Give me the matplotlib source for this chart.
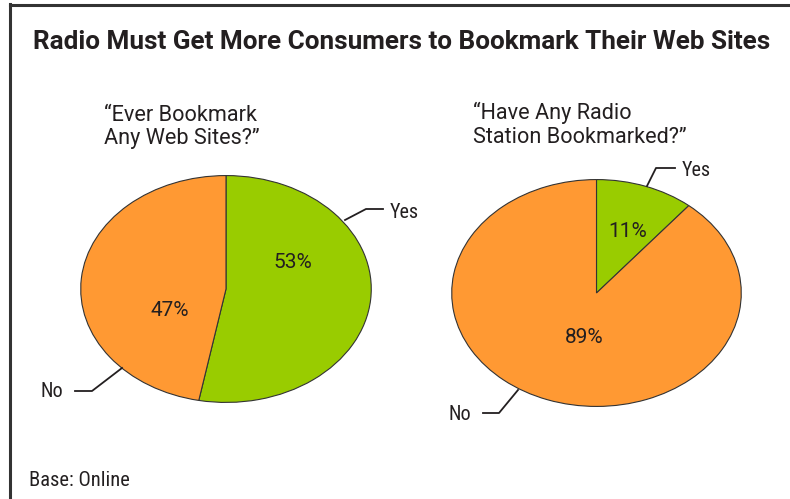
import matplotlib
matplotlib.use("Agg")
import matplotlib.pyplot as plt
from matplotlib import font_manager as fm
from matplotlib.transforms import Affine2D
from matplotlib.lines import Line2D

# Survey results
title = "Radio Must Get More Consumers to Bookmark Their Web Sites"
left_question = ["\u201cEver Bookmark", "Any Web Sites?\u201d"]
right_question = ["\u201cHave Any Radio", "Station Bookmarked?\u201d"]
categories = ["Yes", "No"]
left_values = [53, 47]
right_values = [11, 89]
footnote = "Base: Online"

GREEN = "#99CC00"
ORANGE = "#FF9933"
INK = "#231F20"

# faces: a condensed sans for small labels, a regular sans for headings
available = {f.name for f in fm.fontManager.ttflist}
candidates = ["Roboto Condensed", "Archivo Narrow", "PT Sans Narrow",
              "Asap Condensed", "Barlow Semi Condensed", "DejaVu Sans"]
NARROW = [next(c for c in candidates if c in available), "DejaVu Sans"]
REGULAR = ["Roboto", "DejaVu Sans"]

W, H = 790, 499
fig = plt.figure(figsize=(W / 100, H / 100), dpi=100)
fig.patch.set_facecolor("white")

# pixel coordinates (origin top-left)
px = Affine2D().scale(1 / W, -1 / H).translate(0, 1) + fig.transFigure


def pie_axes(x0, y0, x1, y1):
    return fig.add_axes([x0 / W, 1 - y1 / H, (x1 - x0) / W, (y1 - y0) / H])


def draw_pie(ax, values):
    ax.pie(values, colors=[GREEN, ORANGE], startangle=90, counterclock=False,
           wedgeprops=dict(edgecolor="#333333", linewidth=0.8))
    ax.set_aspect("auto")
    ax.set_xlim(-1.005, 1.005)
    ax.set_ylim(-1.005, 1.005)
    ax.axis("off")


ax_l = pie_axes(80, 175, 372, 403)
draw_pie(ax_l, left_values)
ax_r = pie_axes(451, 179, 742, 407)
draw_pie(ax_r, right_values)

# frame lines
fig.add_artist(Line2D([10, 790], [5, 5], transform=px, color="#333333", lw=2.2))
fig.add_artist(Line2D([10, 10], [4, 499], transform=px, color="#333333", lw=2.2))


def txt(x, y, s, size=14, ha="left", weight="normal", family=NARROW):
    fig.text(x, y, s, transform=px, ha=ha, va="baseline", fontsize=size,
             family=family, color=INK, fontweight=weight)


txt(33, 49, title, size=18.8, weight="bold", family=REGULAR)
txt(104, 121, left_question[0], size=15.6, family=REGULAR)
txt(104, 144, left_question[1], size=15.6, family=REGULAR)
txt(473, 119, right_question[0], size=15.6, family=REGULAR)
txt(473, 143, right_question[1], size=15.6, family=REGULAR)

# percentage labels
txt(293, 268, f"{left_values[0]}%", ha="center", size=15, family=REGULAR)
txt(170, 316, f"{left_values[1]}%", ha="center", size=15, family=REGULAR)
txt(628, 237, f"{right_values[0]}%", ha="center", size=15, family=REGULAR)
txt(584, 343, f"{right_values[1]}%", ha="center", size=15, family=REGULAR)

# category labels with leader lines
txt(390, 218, categories[0], size=14.5)
txt(41, 397, categories[1], size=14.5)
txt(682, 176, categories[0], size=14.5)
txt(448, 420, categories[1], size=14.5)

leaders = [
    ([345, 366, 383], [220, 209, 209]),
    ([122, 92, 75], [368, 391, 391]),
    ([647, 656, 675], [186, 168, 168]),
    ([518, 499, 483], [390, 413, 413]),
]
for xs, ys in leaders:
    fig.add_artist(Line2D(xs, ys, transform=px, color=INK, lw=1.3))

txt(29, 486, footnote, size=14.8)

fig.savefig("out.png", dpi=100, facecolor="white")
